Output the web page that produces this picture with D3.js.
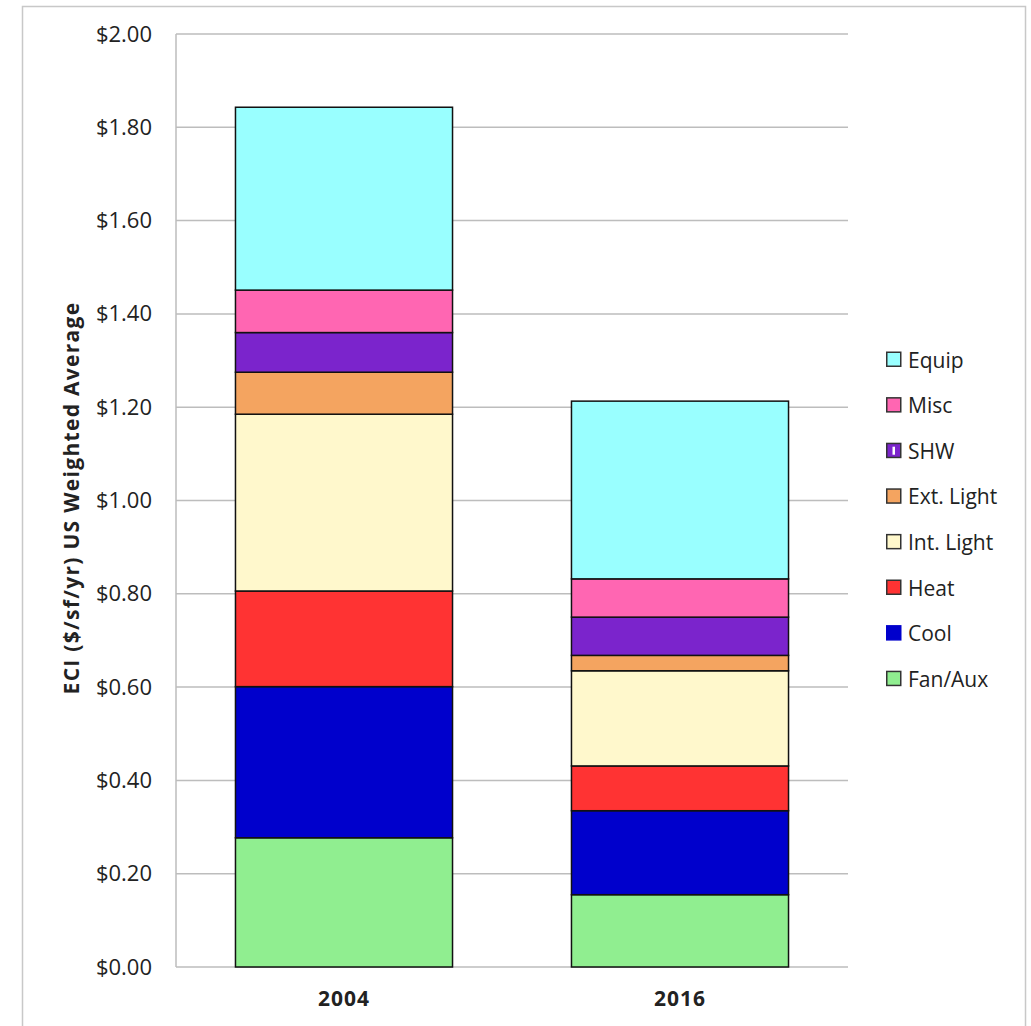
<!DOCTYPE html>
<html>
<head>
<meta charset="utf-8">
<script src="https://cdn.jsdelivr.net/npm/d3@7"></script>
<style>
  html, body { margin: 0; padding: 0; background: #fff; }
  svg { display: block; }
  text { font-family: "Open Sans", "DejaVu Sans", sans-serif; fill: #222; }
</style>
</head>
<body>
<svg id="chart" width="1031" height="1026"></svg>
<script>
// Building end-use energy cost intensity, stacked by end use
const years = ["2004", "2016"];
const endUses = ["Fan/Aux", "Cool", "Heat", "Int. Light", "Ext. Light", "SHW", "Misc", "Equip"];
const fanAux   = [0.277, 0.155];
const cool     = [0.324, 0.180];
const heat     = [0.205, 0.096];
const intLight = [0.379, 0.204];
const extLight = [0.090, 0.033];
const shw      = [0.085, 0.082];
const misc     = [0.091, 0.082];
const equip    = [0.392, 0.381];
const yTicks = [0, 0.2, 0.4, 0.6, 0.8, 1.0, 1.2, 1.4, 1.6, 1.8, 2.0];
const colors = ["#90EE90", "#0000CC", "#FF3333", "#FFF8CC", "#F4A460", "#7B24CC", "#FF66B2", "#99FFFF"];

const seriesValues = [fanAux, cool, heat, intLight, extLight, shw, misc, equip];
const table = years.map((yr, i) => {
  const row = { year: yr };
  endUses.forEach((k, j) => { row[k] = seriesValues[j][i]; });
  return row;
});

const svg = d3.select("#chart");

// outer frame
svg.append("rect")
  .attr("x", 22.5).attr("y", 6.5).attr("width", 1003).attr("height", 1040)
  .attr("fill", "none").attr("stroke", "#c8c8c8").attr("stroke-width", 1.5);

const plot = { left: 176, right: 848, top: 34, bottom: 967 };

const x = d3.scaleBand().domain(years)
  .range([plot.left, plot.right])
  .paddingInner(0.354).paddingOuter(0.177);

const y = d3.scaleLinear().domain([0, 2]).range([plot.bottom, plot.top]);

// gridlines
svg.append("g")
  .selectAll("line").data(yTicks).join("line")
  .attr("x1", plot.left).attr("x2", plot.right)
  .attr("y1", d => y(d)).attr("y2", d => y(d))
  .attr("stroke", "#bdbdbd").attr("stroke-width", 1.5);

// left axis line
svg.append("line")
  .attr("x1", plot.left).attr("x2", plot.left)
  .attr("y1", plot.top).attr("y2", plot.bottom)
  .attr("stroke", "#bdbdbd").attr("stroke-width", 1.5);

// y axis labels
const yAxis = d3.axisLeft(y).tickValues(yTicks)
  .tickFormat(d => "$" + d3.format(".2f")(d))
  .tickSize(0).tickPadding(24);
const yg = svg.append("g").attr("transform", `translate(${plot.left},0)`).call(yAxis);
yg.select(".domain").remove();
yg.selectAll("text")
  .style("font-family", "'Open Sans', sans-serif")
  .style("font-size", "22px").attr("fill", "#222");

// x axis labels
const xAxis = d3.axisBottom(x).tickSize(0).tickPadding(24);
const xg = svg.append("g").attr("transform", `translate(0,${plot.bottom})`).call(xAxis);
xg.select(".domain").remove();
xg.selectAll("text")
  .style("font-family", "'Open Sans', sans-serif")
  .style("font-size", "21px").style("font-weight", "bold")
  .style("letter-spacing", "1px").attr("fill", "#222");

// y axis title
svg.append("text")
  .attr("transform", "translate(79,498) rotate(-90)")
  .attr("text-anchor", "middle")
  .style("font-size", "21px").style("font-weight", "bold")
  .style("letter-spacing", "1.3px")
  .text("ECI ($/sf/yr) US Weighted Average");

// stacked bars
const stack = d3.stack().keys(endUses)(table);
const colorOf = d3.scaleOrdinal().domain(endUses).range(colors);

svg.append("g")
  .selectAll("g").data(stack).join("g")
  .attr("fill", d => colorOf(d.key))
  .selectAll("rect").data(d => d).join("rect")
  .attr("x", d => x(d.data.year))
  .attr("width", x.bandwidth())
  .attr("y", d => y(d[1]))
  .attr("height", d => y(d[0]) - y(d[1]))
  .attr("stroke", "#111").attr("stroke-width", 1.5);

// legend, top entry is the top of the stack
const legendItems = endUses.slice().reverse();
const legend = svg.append("g").attr("transform", "translate(886,351.5)");
const rowH = 45.6;
const item = legend.selectAll("g").data(legendItems).join("g")
  .attr("transform", (d, i) => `translate(0,${i * rowH})`);

item.append("rect")
  .attr("x", 0.75).attr("y", 0.75).attr("width", 14).attr("height", 14)
  .attr("fill", d => colorOf(d))
  .attr("stroke", d => d === "Cool" ? colorOf(d) : "#333")
  .attr("stroke-width", 1.5);

// hatch mark in the SHW swatch
item.filter(d => d === "SHW").append("rect")
  .attr("x", 6.5).attr("y", 4).attr("width", 2.5).attr("height", 8)
  .attr("fill", "#fff");

item.append("text")
  .attr("x", 22).attr("y", 8)
  .attr("dominant-baseline", "central")
  .style("font-size", "21px")
  .text(d => d);
</script>
</body>
</html>
